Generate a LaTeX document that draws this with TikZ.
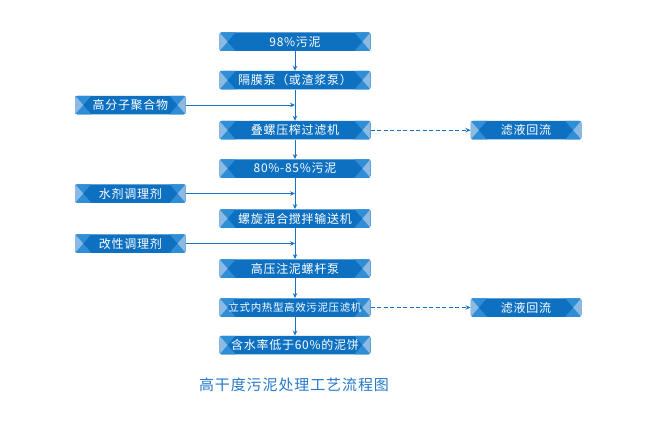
\documentclass[tikz,border=0pt]{standalone}
\usepackage{fontspec}
\setmainfont{Noto Sans CJK SC}[LetterSpace=6]
\usetikzlibrary{arrows.meta,calc}
\definecolor{flowdark}{RGB}{14,112,193}
\definecolor{flowmid}{RGB}{48,142,214}
\definecolor{flowpale}{RGB}{140,186,226}
\definecolor{flowline}{RGB}{28,114,194}
\definecolor{titleblue}{RGB}{38,120,200}

\tikzset{
  flowbox/.style={fill=flowdark, rounded corners=2pt, text=white, inner sep=0pt,
    minimum height=18.5pt, font=\fontsize{12}{14}\selectfont,
    path picture={
      % side crosses
      \fill[flowmid, sharp corners] let \p1=(path picture bounding box.north west),
          \p2=(path picture bounding box.south east), \p3=(path picture bounding box.west) in
        (\x1,\y1) -- (\x1+16pt,\y1) -- (\x1+8pt,\y3) -- (\x1+16pt,\y2) -- (\x1,\y2) -- cycle
        (\x2,\y1) -- (\x2-16pt,\y1) -- (\x2-8pt,\y3) -- (\x2-16pt,\y2) -- (\x2,\y2) -- cycle;
      \fill[flowpale, sharp corners] let \p1=(path picture bounding box.north west),
          \p2=(path picture bounding box.south east), \p3=(path picture bounding box.west) in
        (\x1,\y1) -- (\x1+8pt,\y3) -- (\x1,\y2) -- cycle
        (\x2,\y1) -- (\x2-8pt,\y3) -- (\x2,\y2) -- cycle;
    }},
  mainbox/.style={flowbox, minimum width=151pt},
  sidebox/.style={flowbox, minimum width=110.5pt},
  flowarrow/.style={draw=flowline, line width=0.9pt, -{Stealth[length=5pt,width=4.5pt]}}
}

\begin{document}
\begin{tikzpicture}[x=1pt, y=-1pt]
  \useasboundingbox[fill=white] (0,0) rectangle (663,431);
  % main line
  \node[mainbox] (sludge) at (295,41.7) {98\%污泥};
  \node[mainbox] (pump) at (295,80.2) {隔膜泵（或渣浆泵）};
  \node[mainbox] (press) at (295,130.2) {叠螺压榨过滤机};
  \node[mainbox] (wet) at (295,168.5) {80\%-85\%污泥};
  \node[mainbox] (mixer) at (295,218.5) {螺旋混合搅拌输送机};
  \node[mainbox] (screw) at (295,268.5) {高压注泥螺杆泵};
  \node[mainbox, font=\fontsize{10.5}{12}\selectfont] (filter) at (295,307.5) {立式内热型高效污泥压滤机};
  \node[mainbox] (cake) at (295,345) {含水率低于60\%的泥饼};
  % additives
  \node[sidebox] (poly) at (130.4,105) {高分子聚合物};
  \node[sidebox] (water) at (130.4,193.5) {水剂调理剂};
  \node[sidebox] (modif) at (130.4,243.5) {改性调理剂};
  % filtrate
  \node[sidebox] (back1) at (526,130.2) {滤液回流};
  \node[sidebox] (back2) at (526,307.5) {滤液回流};
  % caption
  \node[text=titleblue, font=\fontsize{15}{18}\selectfont] (title) at (294,385) {高干度污泥处理工艺流程图};
  % arrows
  \draw[flowarrow] (sludge) -- (pump);
  \draw[flowarrow] (pump) -- (press);
  \draw[flowarrow] (press) -- (wet);
  \draw[flowarrow] (wet) -- (mixer);
  \draw[flowarrow] (mixer) -- (screw);
  \draw[flowarrow] (screw) -- (filter);
  \draw[flowarrow] (filter) -- (cake);
  \draw[flowarrow] (poly) -- (poly -| pump.south);
  \draw[flowarrow] (water) -- (water -| wet.south);
  \draw[flowarrow] (modif) -- (modif -| mixer.south);
  \draw[flowarrow, dash pattern=on 4pt off 2.5pt] (press) -- (back1);
  \draw[flowarrow, dash pattern=on 4pt off 2.5pt] (filter) -- (back2);
\end{tikzpicture}
\end{document}
